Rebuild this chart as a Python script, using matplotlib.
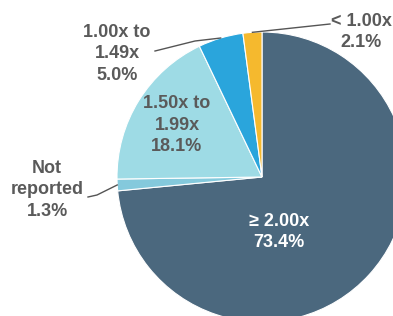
import numpy as np
import matplotlib
matplotlib.use('Agg')
import matplotlib.pyplot as plt

# data (clockwise from 12 o'clock)
labels = ['\u2265 2.00x', 'Not\nreported', '1.50x to\n1.99x', '1.00x to\n1.49x', '< 1.00x']
values = [73.4, 1.3, 18.1, 5.0, 2.1]
colors = ['#4b687e', '#84c9dc', '#9edbe5', '#2aa5dc', '#f5b92e']

plt.rcParams['font.family'] = ['Liberation Sans', 'DejaVu Sans']

fig = plt.figure(figsize=(3.93, 3.16), dpi=100)
ax = fig.add_axes([0, 0, 1, 1])

cx, cy, r = 262, 139, 145
wedges, _ = ax.pie(values, colors=colors, startangle=90, counterclock=False,
                   center=(cx, cy), radius=r,
                   wedgeprops=dict(edgecolor='white', linewidth=0.8))
ax.set_xlim(0, 393)
ax.set_ylim(0, 316)
ax.set_aspect('equal')
ax.axis('off')

def edge_point(w, rr=1.0):
    mid = np.deg2rad((w.theta1 + w.theta2) / 2)
    return cx + r * rr * np.cos(mid), cy + r * rr * np.sin(mid)

txt = dict(fontsize=13, fontweight='bold', ha='center', va='center',
           multialignment='center', linespacing=1.38)
grey = '#5a5a5a'

def lab(i, pct, x, y, color=grey):
    ax.text(x, y, labels[i] + '\n' + '{:.1f}%'.format(pct), color=color, **txt)

# inside labels
lab(0, values[0], 279, 84, color='white')
lab(2, values[2], 177, 191)
# outside labels with leaders
lab(1, values[1], 47, 126)
lab(3, values[3], 117, 262)
lab(4, values[4], 361, 284)

lw = dict(color='#555555', lw=1)
px, py = edge_point(wedges[1])
ax.plot([88, 97, px], [119, 121, py], **lw)
px, py = edge_point(wedges[3])
ax.plot([155, 195, px], [265, 275, py], **lw)
px, py = edge_point(wedges[4])
ax.plot([330, px], [292, py], **lw)

fig.savefig('out.png', dpi=100)
